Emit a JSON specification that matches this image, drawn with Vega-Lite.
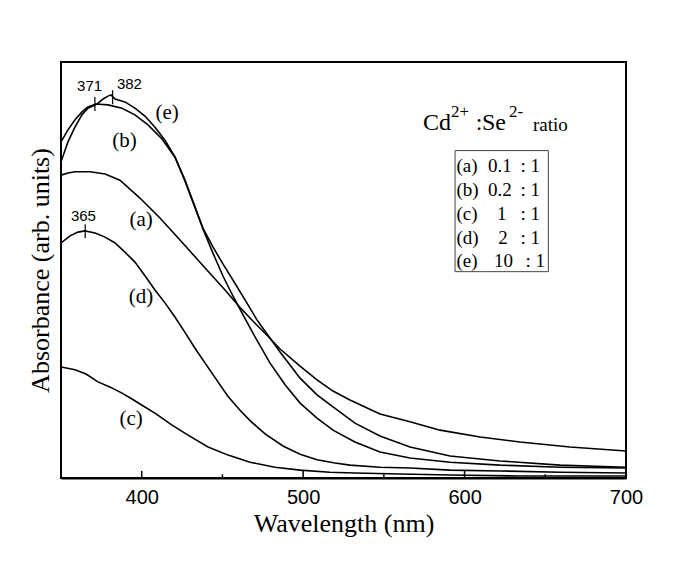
{
  "$schema": "https://vega.github.io/schema/vega-lite/v6.json",
  "width": 565,
  "height": 416,
  "autosize": {"type": "none"},
  "padding": {"left": 61, "top": 62, "right": 59, "bottom": 94},
  "background": "white",
  "config": {
    "view": {"stroke": "black", "strokeWidth": 2},
    "font": "Liberation Serif"
  },
  "datasets": {
    "curves": [
      {"s":"a","w":350,"A":0.728},{"s":"a","w":354.3,"A":0.733},{"s":"a","w":358.7,"A":0.736},{"s":"a","w":368.0,"A":0.736},{"s":"a","w":377.3,"A":0.731},{"s":"a","w":386.5,"A":0.716},{"s":"a","w":398.9,"A":0.673},{"s":"a","w":411.3,"A":0.625},{"s":"a","w":423.7,"A":0.572},{"s":"a","w":440.4,"A":0.500},{"s":"a","w":451.6,"A":0.452},{"s":"a","w":460.9,"A":0.410},{"s":"a","w":470.2,"A":0.372},{"s":"a","w":477.6,"A":0.343},{"s":"a","w":485.7,"A":0.310},{"s":"a","w":498.1,"A":0.269},{"s":"a","w":508.6,"A":0.236},{"s":"a","w":518.5,"A":0.209},{"s":"a","w":529.0,"A":0.1875},{"s":"a","w":547.6,"A":0.154},{"s":"a","w":566.2,"A":0.135},{"s":"a","w":584.8,"A":0.115},{"s":"a","w":609.6,"A":0.0986},{"s":"a","w":634.3,"A":0.0865},{"s":"a","w":665.3,"A":0.0745},{"s":"a","w":700,"A":0.065},
      {"s":"b","w":350,"A":0.808},{"s":"b","w":354.3,"A":0.837},{"s":"b","w":358.7,"A":0.861},{"s":"b","w":363.0,"A":0.880},{"s":"b","w":366.7,"A":0.892},{"s":"b","w":371.7,"A":0.899},{"s":"b","w":379.1,"A":0.897},{"s":"b","w":387.8,"A":0.889},{"s":"b","w":395.8,"A":0.873},{"s":"b","w":403.9,"A":0.849},{"s":"b","w":412.6,"A":0.815},{"s":"b","w":420.6,"A":0.771},{"s":"b","w":426.8,"A":0.716},{"s":"b","w":433.0,"A":0.652},{"s":"b","w":438.0,"A":0.598},{"s":"b","w":444.2,"A":0.540},{"s":"b","w":450.4,"A":0.485},{"s":"b","w":456.5,"A":0.4375},{"s":"b","w":462.1,"A":0.397},{"s":"b","w":470.2,"A":0.339},{"s":"b","w":479.5,"A":0.276},{"s":"b","w":488.8,"A":0.224},{"s":"b","w":498.1,"A":0.180},{"s":"b","w":508.6,"A":0.144},{"s":"b","w":518.5,"A":0.115},{"s":"b","w":532.1,"A":0.0865},{"s":"b","w":547.6,"A":0.0625},{"s":"b","w":566.2,"A":0.048},{"s":"b","w":591.0,"A":0.038},{"s":"b","w":621.9,"A":0.031},{"s":"b","w":659.1,"A":0.026},{"s":"b","w":700,"A":0.024},
      {"s":"c","w":350,"A":0.267},{"s":"c","w":358.7,"A":0.260},{"s":"c","w":365.5,"A":0.250},{"s":"c","w":372.9,"A":0.231},{"s":"c","w":380.2,"A":0.219},{"s":"c","w":387.8,"A":0.204},{"s":"c","w":394.0,"A":0.190},{"s":"c","w":400.2,"A":0.175},{"s":"c","w":408.2,"A":0.156},{"s":"c","w":418.8,"A":0.127},{"s":"c","w":428.7,"A":0.103},{"s":"c","w":441.1,"A":0.0745},{"s":"c","w":453.5,"A":0.055},{"s":"c","w":467.1,"A":0.038},{"s":"c","w":482.6,"A":0.026},{"s":"c","w":498.1,"A":0.019},{"s":"c","w":516.6,"A":0.014},{"s":"c","w":532.1,"A":0.012},{"s":"c","w":560.0,"A":0.0096},{"s":"c","w":591.0,"A":0.0072},{"s":"c","w":634.3,"A":0.0048},{"s":"c","w":700,"A":0.0048},
      {"s":"d","w":350,"A":0.565},{"s":"d","w":355.6,"A":0.582},{"s":"d","w":360.5,"A":0.591},{"s":"d","w":364.9,"A":0.594},{"s":"d","w":371.1,"A":0.589},{"s":"d","w":377.3,"A":0.579},{"s":"d","w":383.5,"A":0.565},{"s":"d","w":389.6,"A":0.543},{"s":"d","w":395.8,"A":0.519},{"s":"d","w":402.0,"A":0.486},{"s":"d","w":408.2,"A":0.452},{"s":"d","w":414.4,"A":0.421},{"s":"d","w":420.6,"A":0.387},{"s":"d","w":426.8,"A":0.350},{"s":"d","w":433.0,"A":0.312},{"s":"d","w":443.5,"A":0.252},{"s":"d","w":453.5,"A":0.196},{"s":"d","w":460.9,"A":0.163},{"s":"d","w":467.1,"A":0.138},{"s":"d","w":476.4,"A":0.106},{"s":"d","w":487.5,"A":0.077},{"s":"d","w":498.1,"A":0.057},{"s":"d","w":508.6,"A":0.044},{"s":"d","w":519.7,"A":0.036},{"s":"d","w":529.0,"A":0.031},{"s":"d","w":547.6,"A":0.026},{"s":"d","w":566.2,"A":0.024},{"s":"d","w":591.0,"A":0.019},{"s":"d","w":621.9,"A":0.017},{"s":"d","w":659.1,"A":0.014},{"s":"d","w":700,"A":0.012},
      {"s":"e","w":350,"A":0.760},{"s":"e","w":354.3,"A":0.808},{"s":"e","w":358.7,"A":0.844},{"s":"e","w":363.0,"A":0.873},{"s":"e","w":366.7,"A":0.889},{"s":"e","w":372.3,"A":0.899},{"s":"e","w":376.0,"A":0.911},{"s":"e","w":379.1,"A":0.918},{"s":"e","w":381.0,"A":0.921},{"s":"e","w":383.5,"A":0.911},{"s":"e","w":389.6,"A":0.904},{"s":"e","w":395.8,"A":0.889},{"s":"e","w":402.0,"A":0.870},{"s":"e","w":408.2,"A":0.843},{"s":"e","w":414.4,"A":0.812},{"s":"e","w":420.6,"A":0.772},{"s":"e","w":426.8,"A":0.714},{"s":"e","w":433.0,"A":0.650},{"s":"e","w":438.0,"A":0.600},{"s":"e","w":444.2,"A":0.555},{"s":"e","w":450.4,"A":0.514},{"s":"e","w":456.5,"A":0.476},{"s":"e","w":464.0,"A":0.428},{"s":"e","w":471.4,"A":0.380},{"s":"e","w":478.2,"A":0.343},{"s":"e","w":485.7,"A":0.303},{"s":"e","w":498.1,"A":0.240},{"s":"e","w":508.6,"A":0.200},{"s":"e","w":518.5,"A":0.171},{"s":"e","w":532.1,"A":0.132},{"s":"e","w":547.6,"A":0.101},{"s":"e","w":566.2,"A":0.0745},{"s":"e","w":591.0,"A":0.053},{"s":"e","w":621.9,"A":0.041},{"s":"e","w":659.1,"A":0.031},{"s":"e","w":700,"A":0.026}
    ],
    "peaks": [
      {"w":371,"A":0.899,"t":"371","tw":367.7,"tA":0.942},
      {"w":382,"A":0.915,"t":"382","tw":392.4,"tA":0.946},
      {"w":365,"A":0.593,"t":"365","tw":363.9,"tA":0.631}
    ],
    "curveLabels": [
      {"t":"(a)","w":399.6,"A":0.620},
      {"t":"(b)","w":389.3,"A":0.810},
      {"t":"(c)","w":393.4,"A":0.143},
      {"t":"(d)","w":399.6,"A":0.436},
      {"t":"(e)","w":415.7,"A":0.877}
    ],
    "legendRows": [
      {"k":"(a)","v":"0.1","r":": 1","A":0.750,"vw":621.9,"rw":634.6},
      {"k":"(b)","v":"0.2","r":": 1","A":0.692,"vw":621.9,"rw":634.6},
      {"k":"(c)","v":"1","r":": 1","A":0.635,"vw":623.0,"rw":634.6},
      {"k":"(d)","v":"2","r":": 1","A":0.577,"vw":623.8,"rw":634.6},
      {"k":"(e)","v":"10","r":": 1","A":0.522,"vw":624.1,"rw":637.7}
    ],
    "legendBox": [{"x1":594.1,"x2":651.9,"y1":0.787,"y2":0.496}],
    "titleMain": [
      {"t":"Cd","w":574.3,"A":0.837},
      {"t":":","w":607.0,"A":0.837},
      {"t":"Se","w":610.8,"A":0.837}
    ],
    "titleSup": [
      {"t":"2+","w":591.6,"A":0.868},
      {"t":"2-","w":627.5,"A":0.868}
    ],
    "titleSub": [
      {"t":"ratio","w":642.4,"A":0.834}
    ],
    "majorTicks": [{"w":400},{"w":500},{"w":600}],
    "minorTicks": [{"w":450},{"w":550},{"w":650}]
  },
  "layer": [
    {
      "data": {"name": "curves"},
      "mark": {"type": "line", "color": "black", "strokeWidth": 1.6, "clip": true},
      "encoding": {
        "x": {
          "field": "w", "type": "quantitative", "title": "Wavelength (nm)",
          "scale": {"domain": [350, 700], "nice": false, "zero": false},
          "axis": {
            "title": "Wavelength (nm)",
            "values": [400, 500, 600, 700],
            "ticks": false, "grid": false,
            "domainColor": "black", "domainWidth": 2,
            "labelFont": "Liberation Sans", "labelFontSize": 20, "labelColor": "black",
            "labelPadding": 9, "labelFlush": false,
            "titleFont": "Liberation Serif", "titleFontSize": 26, "titleFontWeight": "normal",
            "titleColor": "black", "titlePadding": 3
          }
        },
        "y": {
          "field": "A", "type": "quantitative", "title": "Absorbance (arb. units)",
          "scale": {"domain": [0, 1], "nice": false, "zero": false},
          "axis": {
            "title": "Absorbance (arb. units)",
            "ticks": false, "labels": false, "grid": false, "domain": false,
            "titleFont": "Liberation Serif", "titleFontSize": 26, "titleFontWeight": "normal",
            "titleColor": "black", "titlePadding": 8
          }
        },
        "detail": {"field": "s"}
      }
    },
    {
      "data": {"name": "majorTicks"},
      "mark": {"type": "rule", "color": "black", "strokeWidth": 1.5},
      "encoding": {
        "x": {"field": "w", "type": "quantitative", "title": "Wavelength (nm)"},
        "y": {"datum": 0, "title": "Absorbance (arb. units)"},
        "y2": {"datum": 0.017}
      }
    },
    {
      "data": {"name": "minorTicks"},
      "mark": {"type": "rule", "color": "black", "strokeWidth": 1.5},
      "encoding": {
        "x": {"field": "w", "type": "quantitative", "title": "Wavelength (nm)"},
        "y": {"datum": 0, "title": "Absorbance (arb. units)"},
        "y2": {"datum": 0.009}
      }
    },
    {
      "data": {"name": "peaks"},
      "mark": {"type": "rule", "color": "black", "strokeWidth": 1.2, "yOffset": -7, "y2Offset": 7},
      "encoding": {
        "x": {"field": "w", "type": "quantitative", "title": "Wavelength (nm)"},
        "y": {"field": "A", "type": "quantitative", "title": "Absorbance (arb. units)"},
        "y2": {"field": "A"}
      }
    },
    {
      "data": {"name": "peaks"},
      "mark": {"type": "text", "font": "Liberation Sans", "fontSize": 15, "color": "black", "align": "center", "baseline": "middle"},
      "encoding": {
        "x": {"field": "tw", "type": "quantitative", "title": "Wavelength (nm)"},
        "y": {"field": "tA", "type": "quantitative", "title": "Absorbance (arb. units)"},
        "text": {"field": "t"}
      }
    },
    {
      "data": {"name": "curveLabels"},
      "mark": {"type": "text", "font": "Liberation Serif", "fontSize": 21, "color": "black", "align": "center", "baseline": "middle"},
      "encoding": {
        "x": {"field": "w", "type": "quantitative", "title": "Wavelength (nm)"},
        "y": {"field": "A", "type": "quantitative", "title": "Absorbance (arb. units)"},
        "text": {"field": "t"}
      }
    },
    {
      "data": {"name": "legendBox"},
      "mark": {"type": "rect", "fill": null, "fillOpacity": 0, "stroke": "#444444", "strokeWidth": 1},
      "encoding": {
        "x": {"field": "x1", "type": "quantitative", "title": "Wavelength (nm)"},
        "x2": {"field": "x2"},
        "y": {"field": "y1", "type": "quantitative", "title": "Absorbance (arb. units)"},
        "y2": {"field": "y2"}
      }
    },
    {
      "data": {"name": "legendRows"},
      "mark": {"type": "text", "font": "Liberation Serif", "fontSize": 19, "color": "black", "align": "left", "baseline": "middle"},
      "encoding": {
        "x": {"datum": 595.0, "type": "quantitative", "title": "Wavelength (nm)"},
        "y": {"field": "A", "type": "quantitative", "title": "Absorbance (arb. units)"},
        "text": {"field": "k"}
      }
    },
    {
      "data": {"name": "legendRows"},
      "mark": {"type": "text", "font": "Liberation Serif", "fontSize": 19, "color": "black", "align": "center", "baseline": "middle"},
      "encoding": {
        "x": {"field": "vw", "type": "quantitative", "title": "Wavelength (nm)"},
        "y": {"field": "A", "type": "quantitative", "title": "Absorbance (arb. units)"},
        "text": {"field": "v"}
      }
    },
    {
      "data": {"name": "legendRows"},
      "mark": {"type": "text", "font": "Liberation Serif", "fontSize": 19, "color": "black", "align": "left", "baseline": "middle"},
      "encoding": {
        "x": {"field": "rw", "type": "quantitative", "title": "Wavelength (nm)"},
        "y": {"field": "A", "type": "quantitative", "title": "Absorbance (arb. units)"},
        "text": {"field": "r"}
      }
    },
    {
      "data": {"name": "titleMain"},
      "mark": {"type": "text", "font": "Liberation Serif", "fontSize": 24, "color": "black", "align": "left", "baseline": "alphabetic"},
      "encoding": {
        "x": {"field": "w", "type": "quantitative", "title": "Wavelength (nm)"},
        "y": {"field": "A", "type": "quantitative", "title": "Absorbance (arb. units)"},
        "text": {"field": "t"}
      }
    },
    {
      "data": {"name": "titleSup"},
      "mark": {"type": "text", "font": "Liberation Serif", "fontSize": 17, "color": "black", "align": "left", "baseline": "alphabetic"},
      "encoding": {
        "x": {"field": "w", "type": "quantitative", "title": "Wavelength (nm)"},
        "y": {"field": "A", "type": "quantitative", "title": "Absorbance (arb. units)"},
        "text": {"field": "t"}
      }
    },
    {
      "data": {"name": "titleSub"},
      "mark": {"type": "text", "font": "Liberation Serif", "fontSize": 19, "color": "black", "align": "left", "baseline": "alphabetic"},
      "encoding": {
        "x": {"field": "w", "type": "quantitative", "title": "Wavelength (nm)"},
        "y": {"field": "A", "type": "quantitative", "title": "Absorbance (arb. units)"},
        "text": {"field": "t"}
      }
    }
  ]
}
